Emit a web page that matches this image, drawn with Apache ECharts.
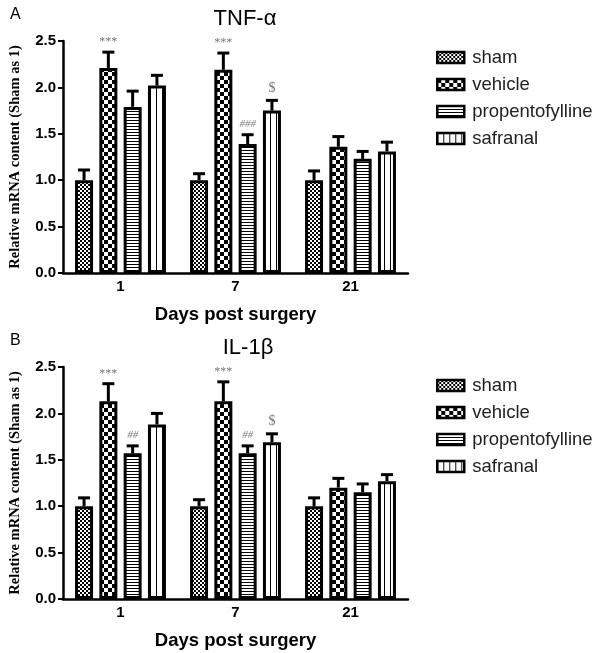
<!DOCTYPE html>
<html><head><meta charset="utf-8">
<script src="https://cdn.jsdelivr.net/npm/echarts@6/dist/echarts.min.js"></script>
<style>html,body{margin:0;padding:0;background:#fff}#c{width:600px;height:653px}</style>
</head><body><div id="c"></div>
<script>
const categories = ['1', '7', '21'];
const seriesNames = ['sham', 'vehicle', 'propentofylline', 'safranal'];
const yTicks = [0, 0.5, 1.0, 1.5, 2.0, 2.5];

// TNF-alpha (panel A): rows = series, cols = days
const tnfMeans = [[1.00, 1.00, 1.00], [2.21, 2.19, 1.36], [1.79, 1.39, 1.23], [2.02, 1.75, 1.31]];
const tnfUpper = [[1.11, 1.07, 1.10], [2.38, 2.37, 1.47], [1.96, 1.49, 1.31], [2.13, 1.86, 1.41]];
const tnfMarks = [['', '', ''], ['***', '***', ''], ['', '###', ''], ['', '$', '']];

// IL-1beta (panel B)
const ilMeans = [[1.00, 1.00, 1.00], [2.13, 2.13, 1.20], [1.57, 1.57, 1.15], [1.88, 1.69, 1.27]];
const ilUpper = [[1.09, 1.07, 1.09], [2.32, 2.34, 1.30], [1.65, 1.65, 1.24], [2.00, 1.78, 1.34]];
const ilMarks = [['', '', ''], ['***', '***', ''], ['##', '##', ''], ['', '$', '']];

function makePattern(kind) {
  const c = document.createElement('canvas');
  const ctx = c.getContext('2d');
  if (kind === 0) { c.width = 4; c.height = 4; ctx.fillStyle = '#fff'; ctx.fillRect(0,0,4,4); ctx.fillStyle = '#000'; ctx.fillRect(0,0,2,2); ctx.fillRect(2,2,2,2); }
  else if (kind === 1) { c.width = 8; c.height = 8; ctx.fillStyle = '#fff'; ctx.fillRect(0,0,8,8); ctx.fillStyle = '#000'; ctx.fillRect(0,0,4,4); ctx.fillRect(4,4,4,4); }
  else if (kind === 2) { c.width = 3; c.height = 3; ctx.fillStyle = '#fff'; ctx.fillRect(0,0,3,3); ctx.fillStyle = '#000'; ctx.fillRect(0,0,3,1); }
  else { c.width = 6; c.height = 3; ctx.fillStyle = '#fff'; ctx.fillRect(0,0,6,3); ctx.fillStyle = '#000'; ctx.fillRect(0,0,1,3); }
  return { image: c, repeat: 'repeat' };
}
const patterns = [0,1,2,3].map(makePattern);

const BAR_W = 18, GAP = 0.35;
const step = BAR_W * (1 + GAP);
const offsets = [0,1,2,3].map(i => (i - 1.5) * step);

const grids = [
  { left: 58, top: 41, width: 350, height: 232 },
  { left: 58, top: 367, width: 350, height: 232 }
];

const xAxes = [0,1].map(g => ({
  type: 'category', gridIndex: g, data: categories,
  name: 'Days post surgery', nameLocation: 'middle', nameGap: 32,
  nameTextStyle: { fontFamily: 'Liberation Sans, Arial', fontWeight: 'bold', fontSize: 18.5, color: '#000' },
  axisLine: { lineStyle: { color: '#000', width: 2.5 } },
  axisTick: { alignWithLabel: true, length: 5, lineStyle: { width: 2, color: '#000' } },
  axisLabel: { fontFamily: 'Liberation Sans, Arial', fontWeight: 'bold', fontSize: 15, color: '#000', margin: 6 }
}));
const yAxes = [0,1].map(g => ({
  type: 'value', gridIndex: g, min: 0, max: 2.5, interval: 0.5,
  name: 'Relative mRNA content (Sham as 1)', nameLocation: 'middle', nameGap: 40,
  nameTextStyle: { fontFamily: 'Liberation Serif, Times New Roman', fontWeight: 'bold', fontSize: 14.5, color: '#000' },
  axisLine: { show: true, lineStyle: { color: '#000', width: 2.5 } },
  axisTick: { show: true, length: 5, lineStyle: { width: 2, color: '#000' } },
  splitLine: { show: false },
  axisLabel: { fontFamily: 'Liberation Sans, Arial', fontWeight: 'bold', fontSize: 15, color: '#000', margin: 7,
    formatter: v => yTicks.indexOf(v) >= 0 ? v.toFixed(1) : '' }
}));

const series = [];
[[tnfMeans, tnfUpper, tnfMarks], [ilMeans, ilUpper, ilMarks]].forEach(([means, upper, marks], g) => {
  seriesNames.forEach((name, i) => {
    series.push({
      type: 'bar', name, xAxisIndex: g, yAxisIndex: g,
      data: means[i], barWidth: BAR_W, barGap: (GAP * 100) + '%',
      itemStyle: { color: patterns[i], borderColor: '#000', borderWidth: 3 },
      emphasis: { disabled: true }, z: 2
    });
  });
  seriesNames.forEach((name, i) => {
    const data = categories.map((c, k) => [k, means[i][k], upper[i][k]]);
    series.push({
      type: 'custom', name, xAxisIndex: g, yAxisIndex: g, data, z: 1,
      encode: { x: 0, y: [1, 2] },
      renderItem: (params, api) => {
        const k = api.value(0);
        const base = api.coord([k, api.value(1)]);
        const top = api.coord([k, api.value(2)]);
        const x = base[0] + offsets[i];
        const children = [
          { type: 'line', shape: { x1: x, y1: base[1], x2: x, y2: top[1] }, style: { stroke: '#000', lineWidth: 3 } },
          { type: 'line', shape: { x1: x - 6, y1: top[1], x2: x + 6, y2: top[1] }, style: { stroke: '#000', lineWidth: 3 } }
        ];
        const m = marks[i][params.dataIndex];
        if (m) {
          const isStar = m[0] === '*';
          const isHash = m[0] === '#';
          children.push({ type: 'text', style: {
            text: m, x: x, y: top[1] - (isStar ? 4 : 5), align: 'center', verticalAlign: 'bottom',
            fill: '#777', fontFamily: 'Liberation Serif, Times New Roman',
            fontSize: isStar ? 12 : (isHash ? 11 : 14), fontStyle: isHash ? 'italic' : 'normal'
          } });
        }
        return { type: 'group', children };
      }
    });
  });
});

const legendCommon = {
  orient: 'vertical', left: 431, itemWidth: 27, itemHeight: 11, itemGap: 8,
  icon: 'rect', selectedMode: false, data: seriesNames,
  itemStyle: { borderColor: '#000', borderWidth: 2.5 },
  textStyle: { fontFamily: 'Liberation Sans, Arial', fontSize: 18.5, color: '#222', padding: [0, 0, 0, 3] }
};

const option = {
  animation: false,
  backgroundColor: '#fff',
  title: [
    { text: 'A', left: 5, top: 2, textStyle: { fontFamily: 'Liberation Sans, Arial', fontWeight: 'normal', fontSize: 16, color: '#000' } },
    { text: 'TNF-α', left: 240, top: 3, textAlign: 'center', textStyle: { fontFamily: 'Liberation Sans, Arial', fontWeight: 'normal', fontSize: 22, color: '#000' } },
    { text: 'B', left: 5, top: 328, textStyle: { fontFamily: 'Liberation Sans, Arial', fontWeight: 'normal', fontSize: 16, color: '#000' } },
    { text: 'IL-1β', left: 243, top: 332, textAlign: 'center', textStyle: { fontFamily: 'Liberation Sans, Arial', fontWeight: 'normal', fontSize: 22, color: '#000' } }
  ],
  legend: [
    Object.assign({}, legendCommon, { top: 43 }),
    Object.assign({}, legendCommon, { top: 371 })
  ],
  grid: grids,
  xAxis: xAxes,
  yAxis: yAxes,
  series
};
const chart = echarts.init(document.getElementById('c'), null, { renderer: 'canvas' });
chart.setOption(option);
</script></body></html>
